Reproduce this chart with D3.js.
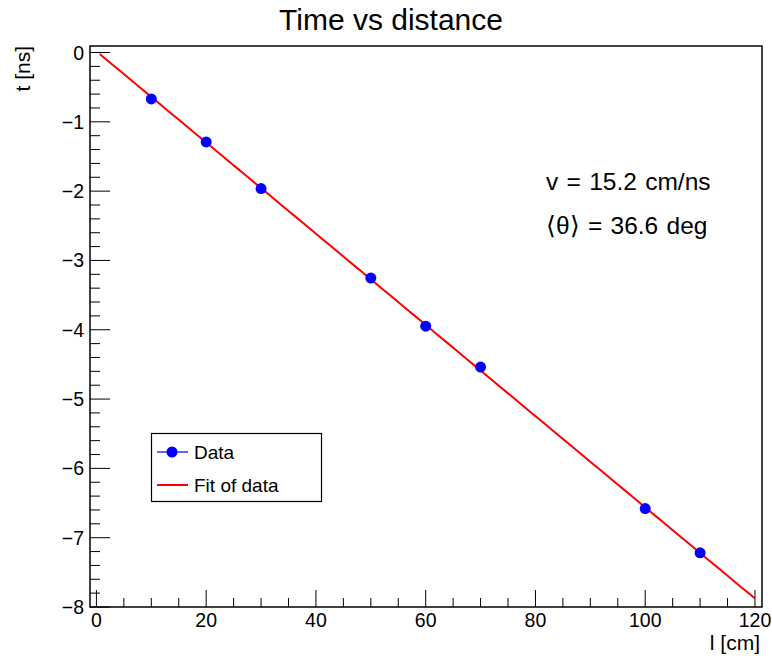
<!DOCTYPE html>
<html><head><meta charset="utf-8">
<script src="https://cdn.jsdelivr.net/npm/d3@7"></script>
<style>
body{margin:0;background:#fff;}
text{font-family:"Liberation Sans",Arial,sans-serif;fill:#000;}
</style></head>
<body><svg id="c" width="772" height="656"></svg>
<script>
// ---- data ----
const distances = [10, 20, 30, 50, 60, 70, 100, 110];          // l [cm]
const times = [-0.670, -1.290, -1.963, -3.255, -3.949, -4.538, -6.580, -7.219]; // t [ns]
const fitSlope = -0.0658;      // ns per cm  (v = 15.2 cm/ns)
const fitIntercept = 0.018;    // ns
const fitRange = [0.6, 120];
const xMajorTicks = [0, 20, 40, 60, 80, 100, 120];
const yMajorTicks = [0, -1, -2, -3, -4, -5, -6, -7, -8];
const annotations = ["v = 15.2 cm/ns", "\u27E8\u03B8\u27E9 = 36.6 deg"];
const legendLabels = ["Data", "Fit of data"];

const svg = d3.select("#c");
const L = 90, R = 762, T = 46, B = 607;
const x = d3.scaleLinear().domain([-1.17, 121.28]).range([L, R]);
const y = d3.scaleLinear().domain([-8, 0.094]).range([B, T]);

// title
svg.append("text").attr("x", 391).attr("y", 30).attr("text-anchor", "middle")
  .style("font-size", "30px").text("Time vs distance");

// frame
svg.append("rect").attr("x", L).attr("y", T).attr("width", R - L).attr("height", B - T)
  .attr("fill", "#fff").attr("stroke", "#000").attr("stroke-width", 1.5);

const fmt = d => d < 0 ? "\u2212" + Math.abs(d) : String(d);

// x axis ticks (inside, pointing up)
const xMinor = d3.range(0, 121, 5).filter(v => v % 20 !== 0);
const gx = svg.append("g");
gx.selectAll("line.maj").data(xMajorTicks).join("line")
  .attr("x1", d => x(d)).attr("x2", d => x(d)).attr("y1", B).attr("y2", B - 17)
  .attr("stroke", "#000").attr("stroke-width", 1);
gx.selectAll("line.min").data(xMinor).join("line")
  .attr("x1", d => x(d)).attr("x2", d => x(d)).attr("y1", B).attr("y2", B - 9)
  .attr("stroke", "#000").attr("stroke-width", 1);
gx.selectAll("text").data(xMajorTicks).join("text")
  .attr("x", d => x(d)).attr("y", 627).attr("text-anchor", "middle")
  .style("font-size", "19.5px").text(fmt);

// y axis ticks (inside, pointing right)
const yMinor = d3.range(0, 41).map(i => -i * 0.2).filter(v => Math.abs(v - Math.round(v)) > 1e-6);
const gy = svg.append("g");
gy.selectAll("line.maj").data(yMajorTicks).join("line")
  .attr("x1", L).attr("x2", L + 20).attr("y1", d => y(d)).attr("y2", d => y(d))
  .attr("stroke", "#000").attr("stroke-width", 1);
gy.selectAll("line.min").data(yMinor).join("line")
  .attr("x1", L).attr("x2", L + 10).attr("y1", d => y(d)).attr("y2", d => y(d))
  .attr("stroke", "#000").attr("stroke-width", 1);
gy.selectAll("text").data(yMajorTicks).join("text")
  .attr("x", 84).attr("y", d => y(d)).attr("dy", "0.36em").attr("text-anchor", "end")
  .style("font-size", "19.5px").text(fmt);

// axis titles
svg.append("text").attr("x", 760).attr("y", 650).attr("text-anchor", "end")
  .style("font-size", "21px").text("l [cm]");
svg.append("text").attr("transform", "translate(30,46) rotate(-90)")
  .attr("text-anchor", "end").style("font-size", "21px").text("t [ns]");

// fit line
const fitX = d3.range(0, 101).map(i => fitRange[0] + (fitRange[1] - fitRange[0]) * i / 100);
svg.append("path").datum(fitX)
  .attr("d", d3.line().x(d => x(d)).y(d => y(fitIntercept + fitSlope * d)))
  .attr("fill", "none").attr("stroke", "#ff0000").attr("stroke-width", 2);

// data points
svg.selectAll("circle.pt").data(distances.map((d, i) => [d, times[i]])).join("circle")
  .attr("class", "pt").attr("cx", d => x(d[0])).attr("cy", d => y(d[1])).attr("r", 5.5)
  .attr("fill", "#0000ff");

// annotations
svg.selectAll("text.ann").data(annotations).join("text").attr("class", "ann")
  .attr("x", 546).attr("y", (d, i) => 190 + i * 44)
  .style("font-size", "24.5px").style("word-spacing", "1.5px").text(d => d);

// legend
const lg = svg.append("g");
lg.append("rect").attr("x", 151.5).attr("y", 433.5).attr("width", 170).attr("height", 68)
  .attr("fill", "#fff").attr("stroke", "#000").attr("stroke-width", 1.2);
lg.append("line").attr("x1", 157).attr("x2", 188).attr("y1", 452).attr("y2", 452)
  .attr("stroke", "#0000ff").attr("stroke-width", 1.2);
lg.append("circle").attr("cx", 172).attr("cy", 452).attr("r", 5.5).attr("fill", "#0000ff");
lg.append("line").attr("x1", 157).attr("x2", 188).attr("y1", 485).attr("y2", 485)
  .attr("stroke", "#ff0000").attr("stroke-width", 2);
lg.selectAll("text").data(legendLabels).join("text")
  .attr("x", 194).attr("y", (d, i) => 452 + i * 33).attr("dy", "0.36em")
  .style("font-size", "19px").text(d => d);
</script></body></html>
